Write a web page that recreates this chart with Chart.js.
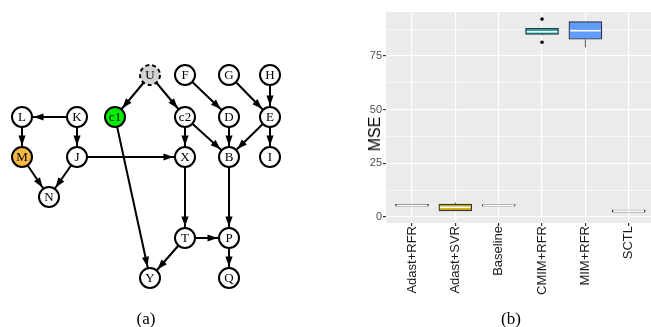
<!DOCTYPE html>
<html><head><meta charset="utf-8">
<script src="https://cdn.jsdelivr.net/npm/chart.js@4.4.0/dist/chart.umd.min.js"></script>
<style>
html,body{margin:0;padding:0;background:#fff;width:651px;height:327px;overflow:hidden;position:relative}
#g{position:absolute;left:0;top:0}
#b{position:absolute;left:340px;top:0}
.cap{position:absolute;font-family:"Liberation Serif","Times New Roman",serif;font-size:17px;color:#000;transform:translate(-50%,-50%);white-space:nowrap;line-height:1}
#mse{position:absolute;left:375px;top:134px;font-family:"Liberation Sans",Arial,sans-serif;font-size:16px;color:#000;transform:translate(-50%,-50%) rotate(-90deg);white-space:nowrap;line-height:1}
</style></head><body>
<canvas id="g" width="340" height="327"></canvas>
<canvas id="b" width="311" height="327"></canvas>
<div class="cap" style="left:146px;top:318px">(a)</div>
<div class="cap" style="left:511px;top:318px">(b)</div>
<div id="mse">MSE</div>
<script>
// ---------- (a) causal graph ----------
const nodeNames = ['U','F','G','H','L','K','c1','c2','D','E','M','J','X','B','I','N','T','P','Y','Q'];
const nodeX = [150,185,229,270,22,77,115,185,229,270,22,77,185,229,270,49,185,229,150,229];
const nodeY = [75,75,75,75,117,117,117,117,117,117,157,157,157,157,157,197,238,238,278,278];
const nodeFill = ['#d3d3d3','#fff','#fff','#fff','#fff','#fff','#00ee00','#fff','#fff','#fff','#f7b944','#fff','#fff','#fff','#fff','#fff','#fff','#fff','#fff','#fff'];
const dashedNodes = ['U'];
const edgeFrom = ['U','U','F','G','H','K','K','L','M','J','J','c1','c2','c2','D','E','E','X','B','T','T','P'];
const edgeTo   = ['c1','c2','D','E','E','L','J','M','N','N','X','Y','X','B','B','B','I','T','P','P','Y','Q'];

// ---------- (b) boxplot ----------
const categories = ['Adast+RFR','Adast+SVR','Baseline','CMIM+RFR','MIM+RFR','SCTL'];
const whiskerLow  = [5.0, 2.8, 5.0, 84.6, 79.0, 2.3];
const q1          = [5.0, 2.8, 5.0, 85.1, 82.8, 2.3];
const median      = [5.45, 4.5, 5.4, 86.3, 86.8, 2.75];
const q3          = [5.9, 6.0, 5.8, 87.9, 91.0, 3.2];
const whiskerHigh = [5.9, 6.8, 5.8, 88.0, 91.0, 3.2];
const outlierValues = [[],[],[],[92.2,81.4],[],[]];
const boxColors = ['#ffffff','#c9ab00','#ffffff','#17acac','#619cff','#ffffff'];
const yMajorTicks = [0,25,50,75];
const yMinorTicks = [12.5,37.5,62.5,87.5];

const idx = n => nodeNames.indexOf(n);

// Graph chart
const edgeDatasets = edgeFrom.map((f,i)=>({
  type:'scatter', showLine:true, order:1,
  data:[{x:nodeX[idx(f)],y:nodeY[idx(f)]},{x:nodeX[idx(edgeTo[i])],y:nodeY[idx(edgeTo[i])]}],
  borderColor:'#000', borderWidth:2, pointRadius:0, clip:false
}));
const nodeDataset = {
  type:'scatter', order:0, clip:false,
  data: nodeNames.map((n,i)=>({x:nodeX[i],y:nodeY[i]})),
  pointRadius:10, pointHoverRadius:10,
  backgroundColor: nodeFill,
  borderColor: nodeNames.map(n=>dashedNodes.includes(n)?'rgba(0,0,0,0)':'#000'),
  borderWidth:2
};
const graphPlugin = {
  id:'graphDeco',
  afterDatasetsDraw(chart){
    const {ctx, scales:{x,y}} = chart;
    ctx.save();
    ctx.fillStyle='#000';
    edgeFrom.forEach((f,i)=>{
      const a=idx(f), b=idx(edgeTo[i]);
      const x1=x.getPixelForValue(nodeX[a]), y1=y.getPixelForValue(nodeY[a]);
      const x2=x.getPixelForValue(nodeX[b]), y2=y.getPixelForValue(nodeY[b]);
      const len=Math.hypot(x2-x1,y2-y1), dx=(x2-x1)/len, dy=(y2-y1)/len;
      const tx=x2-dx*11.5, ty=y2-dy*11.5, bx=tx-dx*10, by=ty-dy*10;
      ctx.beginPath();
      ctx.moveTo(tx,ty);
      ctx.lineTo(bx-dy*3.6,by+dx*3.6);
      ctx.lineTo(bx+dy*3.6,by-dx*3.6);
      ctx.closePath(); ctx.fill();
    });
    dashedNodes.forEach(n=>{
      const i=idx(n);
      ctx.beginPath();
      ctx.setLineDash([4,3]); ctx.lineWidth=2; ctx.strokeStyle='#000';
      ctx.arc(x.getPixelForValue(nodeX[i]), y.getPixelForValue(nodeY[i]), 10, 0, Math.PI*2);
      ctx.stroke(); ctx.setLineDash([]);
    });
    ctx.font='13px "Liberation Serif", "Times New Roman", serif';
    ctx.textAlign='center'; ctx.textBaseline='middle'; ctx.fillStyle='#000';
    nodeNames.forEach((n,i)=>{
      ctx.fillText(n, x.getPixelForValue(nodeX[i]), y.getPixelForValue(nodeY[i])+0.5);
    });
    ctx.restore();
  }
};
new Chart(document.getElementById('g'), {
  type:'scatter',
  data:{datasets:[nodeDataset, ...edgeDatasets]},
  options:{
    responsive:false, animation:false, events:[],
    layout:{padding:0, autoPadding:false},
    plugins:{legend:{display:false}, tooltip:{enabled:false}},
    scales:{
      x:{type:'linear', min:0, max:340, display:false},
      y:{type:'linear', min:0, max:327, reverse:true, display:false}
    }
  },
  plugins:[graphPlugin]
});

// Box chart
const panelBg = {
  id:'panelBg',
  beforeDraw(chart){
    const {ctx, chartArea:a} = chart;
    ctx.save(); ctx.fillStyle='#ebebeb';
    ctx.fillRect(a.left, a.top, a.right-a.left, a.bottom-a.top);
    ctx.restore();
  }
};
const boxDeco = {
  id:'boxDeco',
  afterDatasetsDraw(chart){
    const {ctx, scales:{y}} = chart;
    const meta = chart.getDatasetMeta(0);
    ctx.save();
    meta.data.forEach((bar,i)=>{
      const cx=bar.x, w=bar.width;
      ctx.strokeStyle='#555'; ctx.lineWidth=1;
      ctx.beginPath();
      ctx.moveTo(cx, y.getPixelForValue(q3[i])); ctx.lineTo(cx, y.getPixelForValue(whiskerHigh[i]));
      ctx.moveTo(cx, y.getPixelForValue(q1[i])); ctx.lineTo(cx, y.getPixelForValue(whiskerLow[i]));
      ctx.stroke();
      ctx.strokeStyle='#fff'; ctx.lineWidth=1.6;
      ctx.beginPath();
      const my=y.getPixelForValue(median[i]);
      ctx.moveTo(cx-w/2+1.2, my); ctx.lineTo(cx+w/2-1.2, my);
      ctx.stroke();
    });
    ctx.restore();
  }
};
const outlierPoints = [];
outlierValues.forEach((arr,i)=>arr.forEach(v=>outlierPoints.push({x:i+1,y:v})));

new Chart(document.getElementById('b'), {
  type:'bar',
  data:{datasets:[
    {type:'bar', data:categories.map((c,i)=>({x:i+1, y:[q1[i], q3[i]]})),
     backgroundColor:boxColors, borderColor:'#333', borderWidth:1.2, borderSkipped:false,
     barThickness:33},
    {type:'scatter', data:outlierPoints, pointRadius:1.8, backgroundColor:'#000', borderWidth:0}
  ]},
  options:{
    responsive:false, animation:false, events:[],
    layout:{padding:{top:12, left:0, right:0, bottom:0}, autoPadding:false},
    plugins:{legend:{display:false}, tooltip:{enabled:false}},
    scales:{
      x:{type:'linear', min:0.4, max:6.514, offset:false,
         afterBuildTicks(s){ s.ticks = categories.map((c,i)=>({value:i+1})); },
         afterFit(s){ s.height = 104; },
         ticks:{autoSkip:false, minRotation:90, maxRotation:90, padding:0,
           font:{family:'"Liberation Sans", Arial, sans-serif', size:13}, color:'#1a1a1a',
           callback:(v)=>categories[Math.round(v)-1]},
         grid:{color:'#fff', lineWidth:1.2, tickColor:'#333', tickLength:3, offset:false},
         border:{display:false}},
      y:{type:'linear', min:-2.8, max:95.5,
         afterBuildTicks(s){ s.ticks = [...yMajorTicks, ...yMinorTicks].sort((a,b)=>a-b).map(v=>({value:v})); },
         afterFit(s){ s.width = 46; },
         ticks:{padding:1, font:{family:'"Liberation Sans", Arial, sans-serif', size:11}, color:'#4d4d4d',
           callback:(v)=>yMajorTicks.includes(v)?String(v):''},
         grid:{color:'#fff',
           lineWidth:(c)=>yMajorTicks.includes(c.tick&&c.tick.value)?1.2:0.6,
           tickColor:(c)=>yMajorTicks.includes(c.tick&&c.tick.value)?'#333':'rgba(0,0,0,0)',
           tickLength:3, offset:false},
         border:{display:false}}
    }
  },
  plugins:[panelBg, boxDeco]
});
</script>
</body></html>
